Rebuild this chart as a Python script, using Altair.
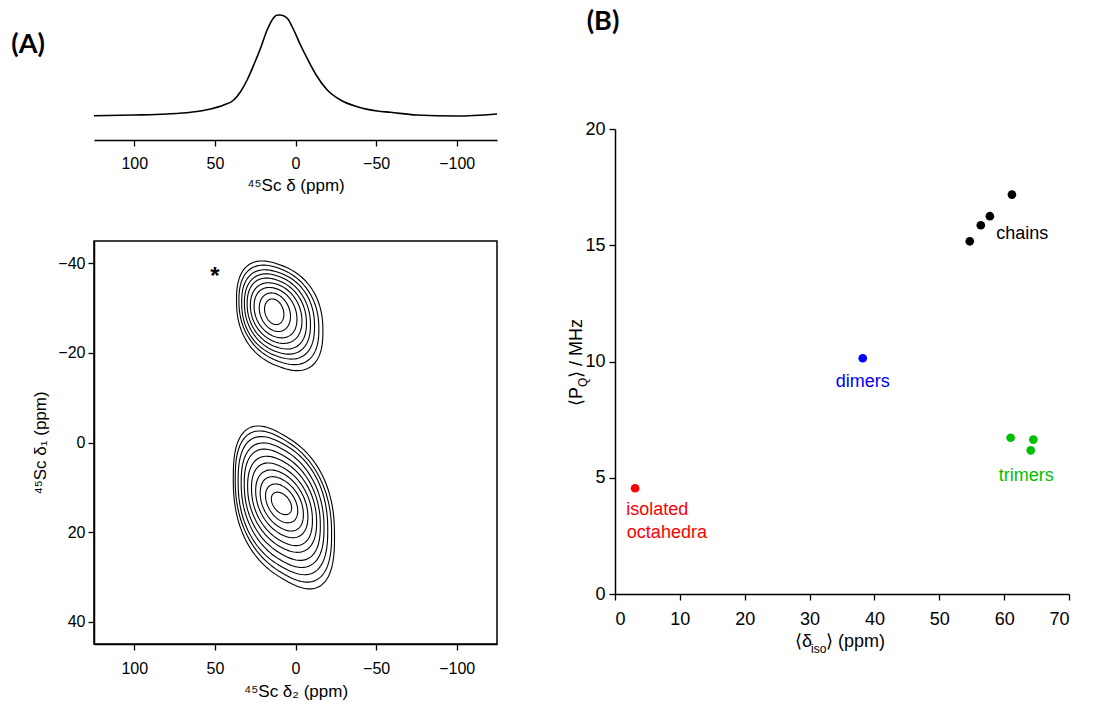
import math
import altair as alt
import pandas as pd

# ---------------- Panel A (top): 1D 45Sc spectrum ----------------
spec_ppm = [125, 100, 80, 65.1, 52.7, 44.5, 38.3, 34.1, 30.0, 25.9, 21.7, 17.6, 13.5, 11.8,
            9.7, 7.4, 5.1, 1.1, -3.1, -8.3, -13.5, -19.7, -27.9, -38.3, -50.7, -58.9, -75, -100, -125]
spec_int = [-0.007, 0.0, 0.01, 0.027, 0.06, 0.10, 0.15, 0.233, 0.35, 0.50, 0.667, 0.85, 0.973, 0.997,
            1.0, 0.993, 0.967, 0.85, 0.70, 0.533, 0.383, 0.25, 0.15, 0.083, 0.04, 0.027, 0.0, -0.01, 0.01]

# ---------------- Panel A (bottom): contour rings (centre, half-widths, tilt, squareness) ----------------
upper_cx = [13.2, 12.8, 12.4, 12.0, 11.6, 11.2, 10.8, 10.3, 9.8]
upper_cy = [-29.2, -29.1, -29.0, -28.9, -28.8, -28.7, -28.6, -28.5, -28.3]
upper_a = [6.0, 9.7, 13.3, 16.0, 18.4, 20.5, 22.6, 24.8, 26.8]
upper_b = [2.8, 4.2, 5.4, 6.5, 7.5, 8.5, 9.4, 10.4, 11.4]
upper_k = [-0.10, -0.10, -0.11, -0.11, -0.12, -0.12, -0.12, -0.13, -0.13]
upper_n = [2.0, 2.0, 2.1, 2.1, 2.2, 2.2, 2.3, 2.3, 2.4]

lower_cx = [8.7, 8.6, 8.5, 8.5, 8.4, 8.3, 8.2, 8.0, 7.8, 7.5, 7.2]
lower_cy = [13.6, 13.6, 13.7, 13.7, 13.8, 13.8, 13.9, 14.0, 14.1, 14.3, 14.5]
lower_a = [6.3, 10.0, 13.4, 16.2, 18.9, 21.4, 23.6, 25.7, 27.8, 29.9, 31.4]
lower_b = [2.3, 4.0, 5.5, 6.9, 8.3, 9.7, 11.1, 12.5, 13.8, 15.0, 16.1]
lower_k = [-0.16, -0.17, -0.18, -0.18, -0.19, -0.19, -0.20, -0.20, -0.20, -0.21, -0.21]
lower_n = [2.0, 2.0, 2.1, 2.1, 2.2, 2.2, 2.3, 2.3, 2.4, 2.4, 2.5]

# ---------------- Panel B: scatter ----------------
pt_group = ["chains", "chains", "chains", "chains", "dimers", "trimers", "trimers", "trimers", "isolated"]
pt_x = [54.7, 56.4, 57.8, 61.2, 38.2, 61.0, 64.5, 64.1, 3.1]
pt_y = [15.17, 15.86, 16.25, 17.18, 10.14, 6.72, 6.64, 6.18, 4.55]
groups = ["chains", "dimers", "trimers", "isolated"]
group_colors = ["#000000", "#0000ff", "#00c000", "#ff0000"]

lab_text = ["chains", "dimers", "trimers", "isolated", "octahedra"]
lab_group = ["chains", "dimers", "trimers", "isolated", "isolated"]
lab_x = [62.8, 38.2, 63.4, 6.5, 8.0]
lab_y = [15.48, 9.13, 5.08, 3.61, 2.62]

FONT = "Liberation Sans"

# ----- build tables -----
spec_df = pd.DataFrame({"ppm": spec_ppm, "I": spec_int})


def spow(v, p):
    return math.copysign(abs(v) ** p, v)


N = 120
rows = []
for name, cxs, cys, As, Bs, ks, ns in [
    ("u", upper_cx, upper_cy, upper_a, upper_b, upper_k, upper_n),
    ("l", lower_cx, lower_cy, lower_a, lower_b, lower_k, lower_n),
]:
    for i in range(len(As)):
        for j in range(N + 1):
            t = 2 * math.pi * j / N
            dx = As[i] * spow(math.cos(t), 2.0 / ns[i])
            dy = Bs[i] * spow(math.sin(t), 2.0 / ns[i])
            rows.append({"ring": f"{name}{i}", "ord": j,
                         "x": cxs[i] + dx, "y": cys[i] + dy + ks[i] * dx})
cont_df = pd.DataFrame(rows)

pts_df = pd.DataFrame({"grp": pt_group, "x": pt_x, "y": pt_y})
lab_df = pd.DataFrame({"t": lab_text, "grp": lab_group, "x": lab_x, "y": lab_y})


def ax(**kw):
    base = dict(domainColor="black", tickColor="black", labelColor="black", titleColor="black",
                labelFont=FONT, titleFont=FONT, grid=False, tickSize=6, tickWidth=1.3,
                domainWidth=1.5, titleFontWeight="normal")
    base.update(kw)
    return alt.Axis(**base)


xscaleA = alt.Scale(domain=[-125, 125], reverse=True, nice=False, zero=False)

# top spectrum
top_line = alt.Chart(spec_df).mark_line(color="black", strokeWidth=1.6, interpolate="monotone").encode(
    x=alt.X("ppm:Q", scale=xscaleA,
            axis=ax(values=[100, 50, 0, -50, -100], title="⁴⁵Sc δ (ppm)", labelFontSize=16,
                    titleFontSize=17, labelPadding=9, titlePadding=6)),
    y=alt.Y("I:Q", scale=alt.Scale(domain=[-0.25, 1.05], nice=False, zero=False), axis=None),
)
label_A = alt.Chart(pd.DataFrame({"t": ["(A)"]})).mark_text(
    font="Lato", fontWeight="bold", fontSize=27, align="center", baseline="middle", color="black"
).encode(text="t:N", x=alt.value(-66), y=alt.value(35))
top = alt.layer(top_line, label_A).properties(width=403, height=130)

# bottom contour map
contours = alt.Chart(cont_df).mark_line(color="black", strokeWidth=1.1).encode(
    x=alt.X("x:Q", scale=xscaleA,
            axis=ax(values=[100, 50, 0, -50, -100], title="⁴⁵Sc δ₂ (ppm)", labelFontSize=16,
                    titleFontSize=17, labelPadding=10, titlePadding=7)),
    y=alt.Y("y:Q", scale=alt.Scale(domain=[-45, 45], reverse=True, nice=False, zero=False),
            axis=ax(values=[-40, -20, 0, 20, 40], title="⁴⁵Sc δ₁ (ppm)", labelFontSize=16,
                    titleFontSize=17, labelPadding=3, titlePadding=8)),
    detail="ring:N",
    order="ord:Q",
)
star = alt.Chart(pd.DataFrame({"t": ["*"]})).mark_text(
    font=FONT, fontWeight="bold", fontSize=24, align="center", baseline="middle", color="black"
).encode(text="t:N", x=alt.value(121), y=alt.value(36))
bottom = alt.layer(contours, star).properties(
    width=403, height=403, view=alt.ViewBackground(stroke="black", strokeWidth=1.5)
)

panelA = alt.vconcat(top, bottom, spacing=47)

# Panel B
colscale = alt.Scale(domain=groups, range=group_colors)
scatter = alt.Chart(pts_df).mark_circle(size=75, opacity=1).encode(
    x=alt.X("x:Q", scale=alt.Scale(domain=[0, 70], nice=False, zero=False),
            axis=ax(values=list(range(0, 71, 10)), title=None, labelFontSize=18, labelPadding=10)),
    y=alt.Y("y:Q", scale=alt.Scale(domain=[0, 20], nice=False, zero=False),
            axis=ax(values=[0, 5, 10, 15, 20], title=None, labelFontSize=18, labelPadding=4)),
    color=alt.Color("grp:N", scale=colscale, legend=None),
)
labels = alt.Chart(lab_df).mark_text(font=FONT, fontSize=18, align="center", baseline="middle").encode(
    x="x:Q", y="y:Q", text="t:N", color=alt.Color("grp:N", scale=colscale, legend=None)
)


def txt(s, x, y, size=18, angle=0, align="left", weight="normal", font=FONT):
    kw = dict(font=font, fontSize=size, align=align, baseline="middle", color="black",
              fontWeight=weight)
    if angle:
        kw["angle"] = angle
    return alt.Chart(pd.DataFrame({"t": [s]})).mark_text(**kw).encode(
        text="t:N", x=alt.value(x), y=alt.value(y))


# x title  <δ_iso> (ppm)
xt1 = txt("⟨δ", 180, 513)
xt2 = txt("iso", 196, 520, size=12)
xt3 = txt("⟩ (ppm)", 211, 513)
# y title  <P_Q> / MHz (rotated)
yt1 = txt("⟨P", -38, 277, angle=270)
yt2 = txt("Q", -32, 258, size=12, angle=270)
yt3 = txt("⟩ / MHz", -38, 249, angle=270)

scatterB = alt.layer(scatter, labels, xt1, xt2, xt3, yt1, yt2, yt3).properties(width=454, height=465)
headB = txt("(B)", -12, 12, size=27, align="center", weight="bold", font="Lato").properties(
    width=454, height=20)
panelB = alt.vconcat(headB, scatterB, spacing=85)

chart = alt.hconcat(panelA, panelB, spacing=67).configure_view(strokeWidth=0).properties(
    padding={"left": 11, "top": 8, "right": 5, "bottom": 5}
)

chart.save("out.html", embed_options={"renderer": "svg", "actions": False})
